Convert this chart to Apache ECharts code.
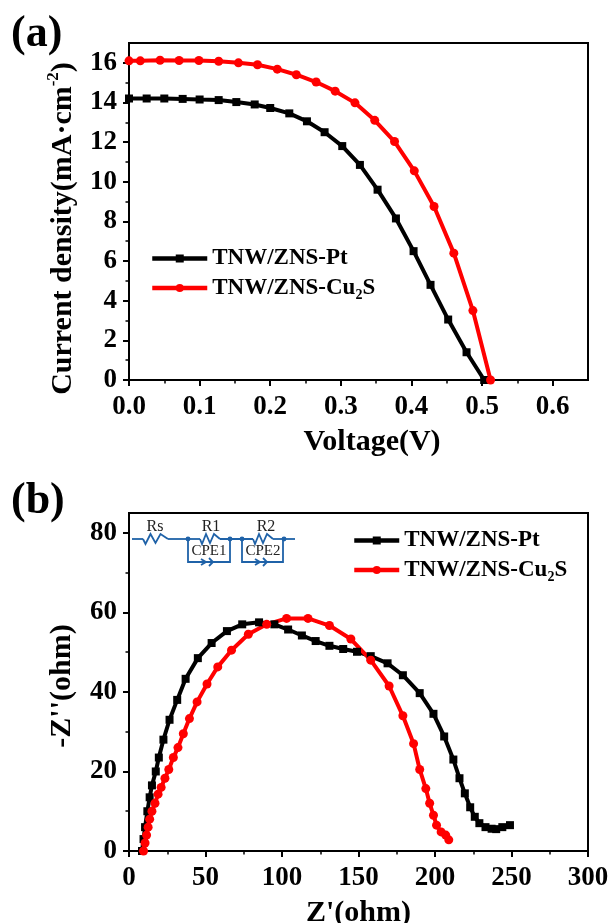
<!DOCTYPE html>
<html><head><meta charset="utf-8">
<style>html,body{margin:0;padding:0;background:#fff}#c{width:610px;height:923px}</style>
<script src="https://cdn.jsdelivr.net/npm/echarts@6/dist/echarts.min.js"></script></head>
<body><div id="c"></div>
<script>
const ptJV = [[0,14.2],[0.025,14.2],[0.05,14.2],[0.076,14.18],[0.1,14.15],[0.127,14.12],[0.152,14.02],[0.178,13.9],[0.2,13.72],[0.227,13.45],[0.252,13.05],[0.277,12.5],[0.302,11.8],[0.327,10.85],[0.352,9.6],[0.378,8.15],[0.403,6.5],[0.427,4.8],[0.452,3.05],[0.478,1.4],[0.503,0]];
const cuJV = [[0,16.1],[0.016,16.1],[0.044,16.13],[0.071,16.12],[0.099,16.12],[0.127,16.08],[0.155,16],[0.182,15.9],[0.21,15.68],[0.237,15.4],[0.265,15.03],[0.292,14.57],[0.32,13.98],[0.348,13.1],[0.376,12.03],[0.404,10.55],[0.432,8.75],[0.46,6.4],[0.487,3.5],[0.512,0]];
const ptEIS = [[8.5,0],[9.5,3],[10.5,6],[12,10],[13.5,13.5],[15,16.5],[17.5,20],[19.5,23.5],[22.5,28],[26.5,33],[31.5,38],[37,43.3],[45,48.5],[54,52.3],[64,55.3],[74,57],[85,57.5],[95,57],[104,55.7],[113,54.2],[122,52.8],[131,51.6],[140,50.8],[149,50.1],[158,49],[169,47.2],[179,44.2],[190,39.7],[199,34.5],[206,28.8],[212,23],[216,18.3],[219.5,14.5],[223,11],[226,8.6],[229,7],[233,6],[237,5.6],[240,5.5],[244,6],[249,6.5]];
const cuEIS = [[9.5,0],[10.5,2],[11.5,4],[12.5,6],[13.5,8],[15,10],[17,12],[19,14.3],[21,16],[23.5,18.3],[26,20.5],[29,23.5],[32,26],[35.5,29.5],[39.5,33.3],[44.5,37.5],[51,42],[58,46.3],[67,50.5],[78,54.5],[90,57],[103,58.5],[117,58.5],[131,56.7],[145,53.3],[158,48],[170,41.5],[179,34],[186,27],[190,20.5],[194,15.7],[196.5,12],[199,9],[201,6.5],[204,4.8],[207,4],[209,2.8]];
const seriesNames = ['TNW/ZNS-Pt','TNW/ZNS-Cu2S'];
const voltMajor = [0,0.1,0.2,0.3,0.4,0.5,0.6];
const voltMinor = [0.05,0.15,0.25,0.35,0.45,0.55];
const jMajor = [0,2,4,6,8,10,12,14,16];
const jMinor = [1,3,5,7,9,11,13,15];
const zMajor = [0,50,100,150,200,250,300];
const zMinor = [25,75,125,175,225,275];
const zzMajor = [0,20,40,60,80];
const zzMinor = [10,30,50,70];

const FONT = '"Liberation Serif"';
const BLUE = '#1f62a8';
const base = {fontFamily:FONT,fontWeight:'bold',color:'#000'};
const legendFmt = n => n.endsWith('Cu2S') ? '{t|TNW/ZNS-Cu}{s|2}{t|S}' : '{t|'+n+'}';
const legendRich = {t:{...base,fontSize:23,lineHeight:28},s:{...base,fontSize:14,lineHeight:28,verticalAlign:'bottom',padding:[12,0,0,0]}};

function axis(o){
  return {type:'value',gridIndex:o.g,position:o.pos,min:0,max:o.max,
    name:o.name,nameLocation:'middle',nameGap:o.gap,nameTextStyle:{...base,fontSize:30,rich:o.rich,padding:o.pad||0},
    axisLine:{show:true,onZero:false,lineStyle:{color:'#000',width:2}},
    axisTick:{show:true,length:6,inside:false,customValues:o.major,lineStyle:{color:'#000',width:2}},
    minorTick:{show:false},splitLine:{show:false},minorSplitLine:{show:false},
    axisLabel:{...base,fontSize:27,margin:o.margin,customValues:o.major,formatter:o.fmt||(v=>String(v))}};
}
function minorAxis(g,pos,max,vals){
  return {type:'value',gridIndex:g,position:pos,min:0,max,
    axisLine:{show:false,onZero:false},
    axisTick:{show:true,length:3.5,inside:false,customValues:vals,lineStyle:{color:'#000',width:1.5}},
    axisLabel:{show:false},splitLine:{show:false},minorTick:{show:false}};
}
function line(name,data,x,color,symbol,size){
  return {type:'line',name,data,xAxisIndex:x,yAxisIndex:x,color,symbol,symbolSize:size,showSymbol:true,
    lineStyle:{color,width:4},itemStyle:{color},smooth:false,clip:false,animation:false,
    emphasis:{disabled:true}};
}
function zig(x0,x1,y){const p=[];const n=4;const w=(x1-x0)/(n+1);p.push([x0,y]);
  const ys=[y+5,y-5,y+4,y-5];for(let i=0;i<n;i++)p.push([x0+w*(i+1)-w/2,ys[i]]);p.push([x1,y]);return p;}
const wire=(pts)=>({type:'polyline',shape:{points:pts},style:{stroke:BLUE,lineWidth:1.8,fill:null},z:20});
const dot=(x,y)=>({type:'circle',shape:{cx:x,cy:y,r:2.4},style:{fill:BLUE},z:20});
const lab=(t,x,y,s)=>({type:'text',x,y,style:{text:t,fontFamily:FONT,fontSize:s,fill:'#222',align:'center',verticalAlign:'middle'},z:20});
const arrows=(x,y)=>[wire([[x-5,y-3],[x,y],[x-5,y+3]]),wire([[x+3,y-4],[x+7,y],[x+3,y+4]])];
const circuit=[
  wire([[132,539],[143,539]]),wire(zig(143,168,539)),wire([[168,539],[200,539]]),wire(zig(200,220,539)),wire([[220,539],[253,539]]),wire(zig(253,273,539)),wire([[273,539],[295,539]]),
  wire([[188,539],[188,562],[230,562],[230,539]]),wire([[242,539],[242,562],[283,562],[283,539]]),
  ...arrows(206,562),...arrows(260,562),
  dot(188,539),dot(230,539),dot(242,539),dot(284,539),
  lab('Rs',155,527,16),lab('R1',211,527,16),lab('R2',266,527,16),lab('CPE1',209,551,15),lab('CPE2',263,551,15)
];
const legendBase = {padding:0,orient:'vertical',itemGap:1,itemHeight:10,data:seriesNames,selectedMode:false,align:'left',formatter:legendFmt,textStyle:{rich:legendRich},lineStyle:{width:4.5}};
const chart=echarts.init(document.getElementById('c'),null,{renderer:'canvas'});
chart.setOption({
  animation:false,backgroundColor:'#fff',
  grid:[
    {left:129,top:43,width:459,height:337,outerBoundsMode:'none',show:true,borderColor:'#000',borderWidth:2,backgroundColor:'transparent'},
    {left:129,top:513,width:459,height:338,outerBoundsMode:'none',show:true,borderColor:'#000',borderWidth:2,backgroundColor:'transparent'}
  ],
  xAxis:[
    axis({g:0,pos:'bottom',max:0.65,major:voltMajor,name:'Voltage(V)',gap:47,margin:14,pad:[0,0,0,27],fmt:v=>v.toFixed(1)}),
    axis({g:1,pos:'bottom',max:300,major:zMajor,name:"Z'(ohm)",gap:47,margin:14}),
    minorAxis(0,'bottom',0.65,voltMinor),
    minorAxis(1,'bottom',300,zMinor)
  ],
  yAxis:[
    axis({g:0,pos:'left',max:17,major:jMajor,name:'{t|Current density(mA·cm}{u|-2}{t|)}',gap:48,margin:12,pad:[0,34,0,0],
      rich:{t:{...base,fontSize:30,lineHeight:36},u:{...base,fontSize:17,lineHeight:36,verticalAlign:'top'}}}),
    axis({g:1,pos:'left',max:85,major:zzMajor,name:"-Z''(ohm)",gap:52,margin:12,pad:[0,8,0,0]}),
    minorAxis(0,'left',17,jMinor),
    minorAxis(1,'left',85,zzMinor)
  ],
  legend:[
    {...legendBase,left:150,top:244,itemGap:1,itemWidth:55},
    {...legendBase,left:352,top:525,itemWidth:45}
  ],
  graphic:[
    {type:'text',left:11,top:13,style:{text:'(a)',fontFamily:FONT,fontWeight:'bold',fontSize:44,fill:'#000'}},
    {type:'text',left:11,top:480,style:{text:'(b)',fontFamily:FONT,fontWeight:'bold',fontSize:44,fill:'#000'}},
    ...circuit
  ],
  series:[
    line(seriesNames[0],ptJV,0,'#000','rect',8),
    line(seriesNames[1],cuJV,0,'#f00','circle',9),
    line(seriesNames[0],ptEIS,1,'#000','rect',8),
    line(seriesNames[1],cuEIS,1,'#f00','circle',9)
  ]
});
chart.setOption({legend:[{top:247,itemGap:6},{top:529,itemGap:6}]});
</script></body></html>
